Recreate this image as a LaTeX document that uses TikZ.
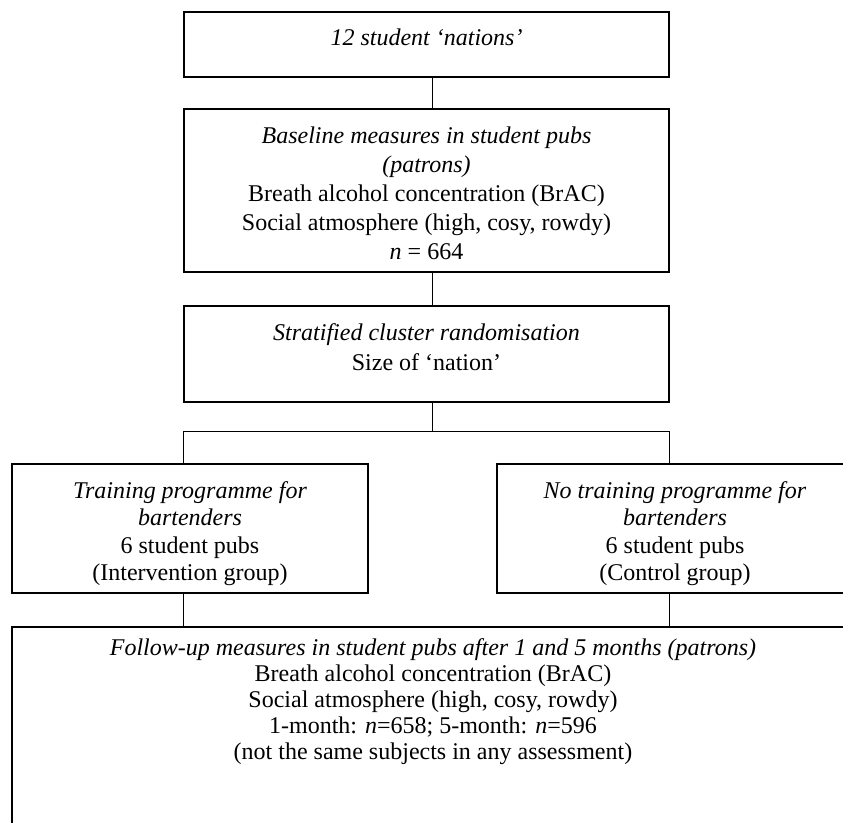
\documentclass[tikz,border=0pt]{standalone}
\usepackage{fontspec}
\setmainfont{Liberation Serif}
\usetikzlibrary{positioning}

\begin{document}
\begin{tikzpicture}[x=0.5pt,y=-0.5pt,
  box/.style={draw,line width=0.75pt,inner sep=0pt},
  txt/.style={align=center,inner sep=0pt,font=\fontsize{12}{13.8}\selectfont},
  conn/.style={line width=0.5pt}]
  \useasboundingbox (0,0) rectangle (843,823);
  \clip (0,0) rectangle (843,823);
  % the boxes
  \node[box,minimum width=242.5pt,minimum height=32.5pt] (nations) at (426.5,44.5) {};
  \node[box,minimum width=242.5pt,minimum height=81.5pt] (baseline) at (426.5,190.5) {};
  \node[box,minimum width=242.5pt,minimum height=48pt] (random) at (426.5,354) {};
  \node[box,minimum width=178pt,minimum height=64.5pt] (training) at (190,528.5) {};
  \node[box,minimum width=178pt,minimum height=64.5pt] (control) at (675,528.5) {};
  \node[box,minimum width=421pt,minimum height=130pt] (followup) at (433,757) {};
  % their texts
  \node[txt,below=8.8pt of nations.north] (nationstxt) {\textit{12 student `nations'}};
  \node[txt,font=\fontsize{12}{14.4}\selectfont,below=9.3pt of baseline.north] (baselinetxt)
    {\textit{Baseline measures in student pubs}\\\textit{(patrons)}\\
     Breath alcohol concentration (BrAC)\\Social atmosphere (high, cosy, rowdy)\\
     \textit{n} = 664};
  \node[txt,font=\fontsize{12}{15}\selectfont,below=8.8pt of random.north] (randomtxt)
    {\textit{Stratified cluster randomisation}\\Size of `nation'};
  \node[txt,below=8.8pt of training.north] (trainingtxt)
    {\textit{Training programme for}\\\textit{bartenders}\\6 student pubs\\(Intervention group)};
  \node[txt,below=8.8pt of control.north] (controltxt)
    {\textit{No training programme for}\\\textit{bartenders}\\6 student pubs\\(Control group)};
  \node[txt,font=\fontsize{12}{13}\selectfont,below=5.8pt of followup.north] (followuptxt)
    {\textit{Follow-up measures in student pubs after 1 and 5 months (patrons)}\\
     Breath alcohol concentration (BrAC)\\Social atmosphere (high, cosy, rowdy)\\
     1-month: \textit{n}=658; 5-month: \textit{n}=596\\
     (not the same subjects in any assessment)};
  % connectors
  \coordinate (split) at (432,432);
  \draw[conn] ([xshift=2.75pt]nations.south) -- ([xshift=2.75pt]baseline.north);
  \draw[conn] ([xshift=2.75pt]baseline.south) -- ([xshift=2.75pt]random.north);
  \draw[conn] ([xshift=2.75pt]random.south) -- (split);
  \draw[conn] (training.north -| random.west) -- (split -| random.west)
    -- (split -| random.east) -- (control.north -| random.east);
  \draw[conn] (training.south -| random.west) -- (followup.north -| random.west);
  \draw[conn] (control.south -| random.east) -- (followup.north -| random.east);
\end{tikzpicture}
\end{document}
